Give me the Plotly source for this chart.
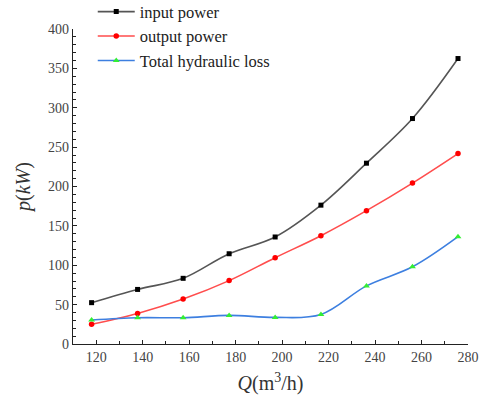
import plotly.graph_objects as go

Q = [118, 137.8, 157.4, 177.2, 197, 216.7, 236.3, 256.1, 275.7]
input_power = [52.5, 69.3, 83.4, 114.6, 135.9, 176.3, 229.6, 286.3, 362.5]
output_power = [25, 38.8, 57.1, 80.5, 109.6, 137.5, 169.3, 204.3, 241.8]
hydraulic_loss = [30.5, 33.4, 33.4, 36.3, 33.8, 37.5, 73.8, 98, 136.3]

FONT = "Liberation Serif"

fig = go.Figure()
fig.add_trace(go.Scatter(
    x=Q, y=input_power, name="input power", mode="lines+markers",
    line=dict(color="#555555", width=1.6, shape="spline", smoothing=1),
    marker=dict(symbol="square", size=5, color="#000000")))
fig.add_trace(go.Scatter(
    x=Q, y=output_power, name="output power", mode="lines+markers",
    line=dict(color="#ff4d4d", width=1.6, shape="spline", smoothing=1),
    marker=dict(symbol="circle", size=5.5, color="#ff0000")))
fig.add_trace(go.Scatter(
    x=Q, y=hydraulic_loss, name="Total hydraulic loss", mode="lines+markers",
    line=dict(color="#3d7fe0", width=1.6, shape="spline", smoothing=1),
    marker=dict(symbol="triangle-up", size=6, color="#33ee33")))

fig.update_layout(
    width=479, height=402,
    margin=dict(l=73, r=11, t=29, b=58, autoexpand=False),
    paper_bgcolor="white", plot_bgcolor="white",
    font=dict(family=FONT, size=14, color="#333333"),
    showlegend=True,
    legend=dict(x=0.05, y=1.11, xanchor="left", yanchor="top",
                font=dict(family=FONT, size=16.5, color="#222222"),
                bgcolor="rgba(0,0,0,0)", tracegroupgap=0, itemwidth=37),
)

fig.update_xaxes(
    range=[110, 280], tick0=120, dtick=20, ticks="inside", ticklen=4,
    tickwidth=1, tickcolor="#222", showline=True, linecolor="#222", linewidth=1.3,
    showgrid=False, zeroline=False, tickfont=dict(family=FONT, size=14, color="#444"),
    minor=dict(ticks="inside", dtick=10, tick0=110, ticklen=2.5, tickcolor="#222"),
    automargin=False,
    title=dict(text="<i>Q</i>(m<sup>3</sup>/h)", font=dict(family=FONT, size=20, color="#333"), standoff=12),
)
fig.update_yaxes(
    range=[0, 400], dtick=50, ticks="inside", ticklen=4,
    tickwidth=1, tickcolor="#222", showline=True, linecolor="#222", linewidth=1.3,
    showgrid=False, zeroline=False, tickfont=dict(family=FONT, size=14, color="#444"),
    minor=dict(ticks="inside", dtick=10, ticklen=2.5, tickcolor="#222"),
    automargin=False,
    title=dict(text="<i>p</i>(<i>kW</i>)", font=dict(family=FONT, size=20, color="#333"), standoff=12),
)

fig.write_html("out.html")
